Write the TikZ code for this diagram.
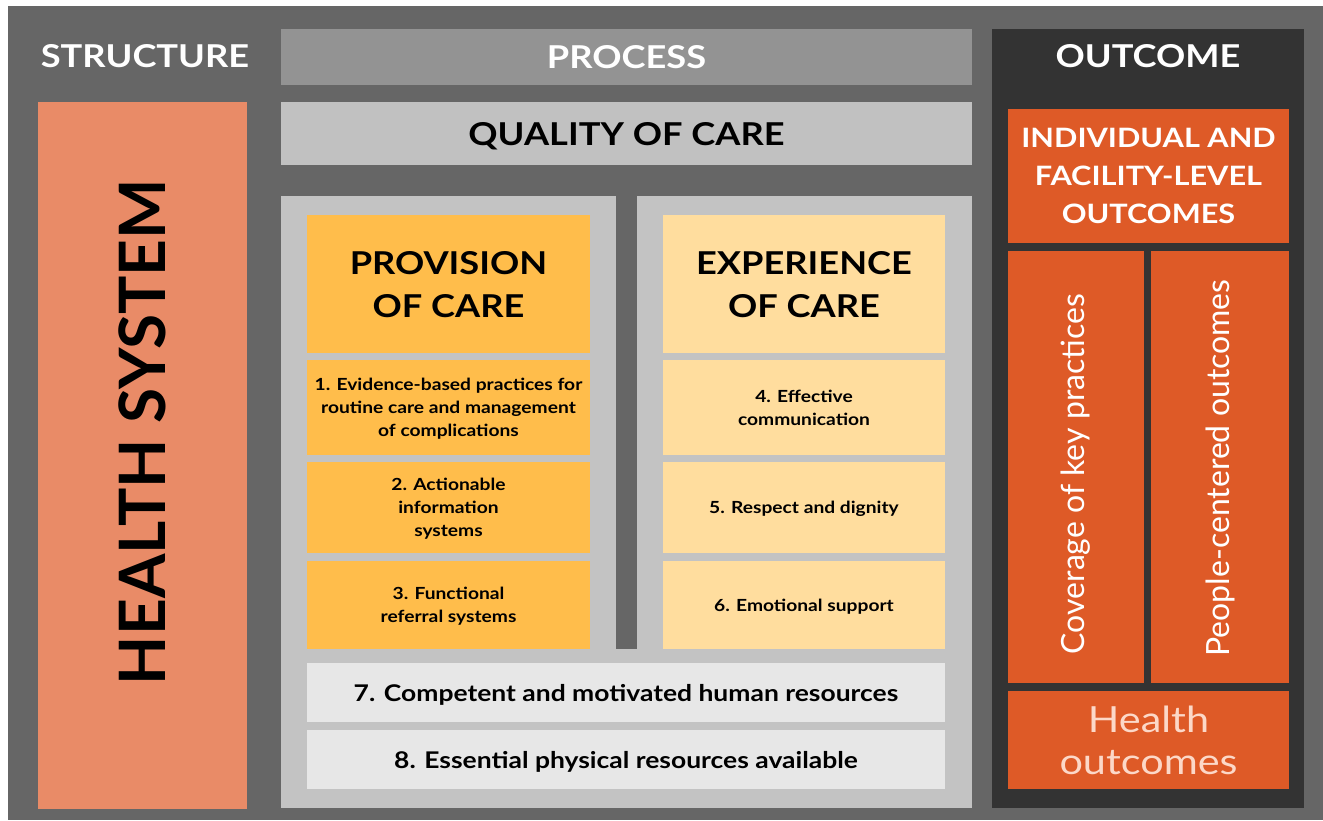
\documentclass[tikz,border=0pt]{standalone}
\usepackage{fontspec}
\setmainfont{Lato}
\newfontfamily\widesf{Lato}[FakeStretch=1.15]
\usetikzlibrary{positioning}

\definecolor{bggrey}{HTML}{666666}
\definecolor{headgrey}{HTML}{939393}
\definecolor{qualgrey}{HTML}{C1C1C1}
\definecolor{panelgrey}{HTML}{C3C3C3}
\definecolor{resgrey}{HTML}{E7E7E7}
\definecolor{provcol}{HTML}{FFBD4B}
\definecolor{expcol}{HTML}{FFDD9E}
\definecolor{hsyscol}{HTML}{E98B67}
\definecolor{outdark}{HTML}{333333}
\definecolor{outorange}{HTML}{DE5A27}
\definecolor{pinktext}{HTML}{FCD8C8}

\tikzset{
  box/.style={rectangle, inner sep=0pt, outer sep=0pt, anchor=north west, align=center, text depth=0pt},
  sz/.style 2 args={minimum width=#1pt, minimum height=#2pt},
  headtext/.style={text=white, font=\widesf\fontsize{31.5}{34}\selectfont\bfseries},
  bigtitle/.style={font=\widesf\fontsize{31.5}{43}\selectfont\bfseries},
  itemtext/.style={font=\widesf\fontsize{16.7}{23}\selectfont\bfseries},
  restext/.style={font=\widesf\fontsize{23}{25}\selectfont\bfseries},
  vertext/.style={rotate=90, text=white, font=\fontsize{32}{36}\selectfont},
}

\begin{document}
\begin{tikzpicture}[x=1pt,y=-1pt]
\useasboundingbox (0,0) rectangle (1323,820);
\fill[bggrey] (8,6) rectangle (1323,820);

% structure
\node[headtext] (structure) at (145,56) {STRUCTURE};
\node[box, sz={209}{707}, fill=hsyscol] (hsys) at (38,102) {};
\node[rotate=90, font=\fontsize{64}{70}\selectfont\bfseries] (hsyslabel) at (142.5,432) {HEALTH SYSTEM};

% process
\node[box, sz={691}{56}, fill=headgrey, headtext] (process) at (281,29) {PROCESS};
\node[box, sz={691}{63}, fill=qualgrey, font=\widesf\fontsize{31.5}{40}\selectfont\bfseries]
      (quality) at (281,102) {QUALITY OF CARE};
\fill[panelgrey] (281,196) rectangle (972,808);
\fill[bggrey] (616,196) rectangle (637,649);

\node[box, sz={283}{138}, fill=provcol, bigtitle] (provision) at (307,215) {PROVISION\\OF CARE};
\node[box, sz={283}{95}, fill=provcol, itemtext, below=7pt of provision] (evid)
      {1. Evidence-based practices for\\routine care and management\\of complications};
\node[box, sz={283}{91}, fill=provcol, itemtext, below=7pt of evid] (info)
      {2. Actionable\\information\\systems};
\node[box, sz={283}{88}, fill=provcol, itemtext, below=8pt of info] (referral)
      {3. Functional\\referral systems};

\node[box, sz={282}{138}, fill=expcol, bigtitle] (experience) at (663,215) {EXPERIENCE\\OF CARE};
\node[box, sz={282}{95}, fill=expcol, itemtext, below=7pt of experience] (commun)
      {4. Effective\\communication};
\node[box, sz={282}{91}, fill=expcol, itemtext, below=7pt of commun] (respect)
      {5. Respect and dignity};
\node[box, sz={282}{88}, fill=expcol, itemtext, below=8pt of respect] (emotion)
      {6. Emotional support};

\node[box, sz={638}{59}, fill=resgrey, restext] (human) at (307,663)
      {7. Competent and motivated human resources};
\node[box, sz={638}{59}, fill=resgrey, restext, below=8pt of human] (physical)
      {8. Essential physical resources available};

% outcome
\fill[outdark] (992,29) rectangle (1304,808);
\node[headtext] (outcome) at (1148,56) {OUTCOME};
\node[box, sz={281}{134}, fill=outorange, text=white,
      font=\widesf\fontsize{26.7}{38}\selectfont\bfseries] (indiv) at (1008,109)
      {INDIVIDUAL AND\\FACILITY-LEVEL\\OUTCOMES};
\node[box, sz={136}{432}, fill=outorange] (coverage) at (1008,251) {};
\node[vertext] (coveragelabel) at (1076,474) {Coverage of key practices};
\node[box, sz={138}{432}, fill=outorange] (people) at (1151,251) {};
\node[vertext] (peoplelabel) at (1220,468) {People-centered outcomes};
\node[box, sz={281}{98}, fill=outorange, text=pinktext,
      font=\widesf\fontsize{36}{42}\selectfont] (health) at (1008,691) {Health\\outcomes};

\end{tikzpicture}
\end{document}
